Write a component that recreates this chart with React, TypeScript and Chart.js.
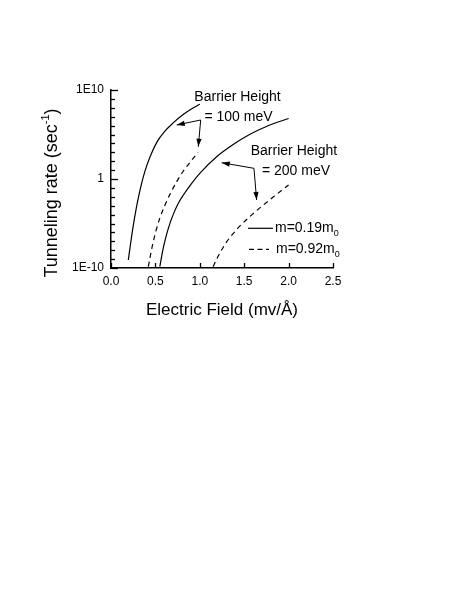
import React, { useEffect, useRef } from 'react';
import { Chart, registerables } from 'chart.js';

Chart.register(...registerables);

const FONT = '"Liberation Sans", Arial, Helvetica, sans-serif';

// Electric field (mV/Å) and log10 of tunneling rate (sec^-1)
const bh100LightField = [0.195, 0.22, 0.25, 0.29, 0.33, 0.38, 0.44, 0.52, 0.6, 0.7, 0.82, 0.91, 1.0];
const bh100LightExp = [-9.1, -7.3, -5.3, -3.0, -1.1, 0.8, 2.5, 4.2, 5.3, 6.3, 7.3, 7.9, 8.4];

const bh100HeavyField = [0.42, 0.44, 0.47, 0.51, 0.55, 0.6, 0.665, 0.74, 0.815, 0.9, 0.98];
const bh100HeavyExp = [-9.85, -8.8, -7.3, -5.7, -4.4, -3.1, -1.7, -0.3, 0.9, 2.0, 3.0];

const bh200LightField = [0.55, 0.58, 0.61, 0.65, 0.7, 0.76, 0.815, 0.9, 1.0, 1.19, 1.38, 1.56, 1.75, 2.0];
const bh200LightExp = [-9.85, -8.2, -6.85, -5.4, -4.0, -2.7, -1.8, -0.6, 0.64, 2.5, 3.9, 5.0, 5.9, 6.8];

const bh200HeavyField = [1.15, 1.2, 1.25, 1.3, 1.37, 1.45, 1.55, 1.64, 1.83, 2.0];
const bh200HeavyExp = [-9.85, -8.8, -7.9, -7.1, -6.2, -5.3, -4.35, -3.55, -2.0, -0.67];

const xTickValues = [0, 0.5, 1.0, 1.5, 2.0, 2.5];
const yLabelExps = [-10, 0, 10];
const yLabelTexts = ['1E-10', '1', '1E10'];

const legendLabels = ['m=0.19m', 'm=0.92m'];
const barrierLabels = ['= 100 meV', '= 200 meV'];

function toPoints(xs: number[], es: number[]) {
  return xs.map((x, i) => ({ x, y: Math.pow(10, es[i]) }));
}

// annotation anchors in data units (x, log10 y)
const ann100 = { title: [1.425, 9.25], sub: [1.436, 7.0], vertex: [1.01, 6.63], left: [0.74, 6.07], down: [0.983, 3.63] };
const ann200 = { title: [2.06, 3.15], sub: [2.083, 0.93], vertex: [1.61, 1.2], left: [1.247, 1.83], down: [1.64, -2.36] };

function arrow(ctx: CanvasRenderingContext2D, x0: number, y0: number, x1: number, y1: number) {
  ctx.beginPath();
  ctx.moveTo(x0, y0);
  ctx.lineTo(x1, y1);
  ctx.stroke();
  const ang = Math.atan2(y1 - y0, x1 - x0);
  const L = 8, W = 2.6;
  ctx.beginPath();
  ctx.moveTo(x1, y1);
  ctx.lineTo(x1 - L * Math.cos(ang) + W * Math.sin(ang), y1 - L * Math.sin(ang) - W * Math.cos(ang));
  ctx.lineTo(x1 - L * Math.cos(ang) - W * Math.sin(ang), y1 - L * Math.sin(ang) + W * Math.cos(ang));
  ctx.closePath();
  ctx.fill();
}

const overlay = {
  id: 'overlay',
  afterDraw(chart: any) {
    const { ctx, chartArea: a } = chart;
    const xs = chart.scales.x;
    const ys = chart.scales.y;
    const P = (p: number[]) => [xs.getPixelForValue(p[0]), ys.getPixelForValue(Math.pow(10, p[1]))];
    ctx.save();
    ctx.strokeStyle = '#000';
    ctx.fillStyle = '#000';
    ctx.lineWidth = 1.3;
    ctx.setLineDash([]);
    // inward ticks
    for (const t of ys.ticks) {
      const py = Math.round(ys.getPixelForValue(t.value)) + 0.5;
      const k = Math.round(Math.log10(t.value));
      const len = yLabelExps.includes(k) ? 7 : 4;
      ctx.beginPath();
      ctx.moveTo(a.left, py);
      ctx.lineTo(a.left + len, py);
      ctx.stroke();
    }
    for (const t of xs.ticks) {
      const px = Math.round(xs.getPixelForValue(t.value)) + 0.5;
      ctx.beginPath();
      ctx.moveTo(px, a.bottom);
      ctx.lineTo(px, a.bottom - 5);
      ctx.stroke();
    }

    // axis titles
    ctx.textBaseline = 'middle';
    ctx.textAlign = 'left';
    ctx.font = `17px ${FONT}`;
    const xt = 'Electric Field (mv/Å)';
    const xw = ctx.measureText(xt).width;
    ctx.fillText(xt, (a.left + a.right) / 2 - xw / 2, a.bottom + 42);

    ctx.save();
    ctx.translate(a.left - 59, (a.top + a.bottom) / 2 + 14);
    ctx.rotate(-Math.PI / 2);
    const t1 = 'Tunneling rate (sec';
    const t2 = '-1';
    const t3 = ')';
    ctx.font = `18px ${FONT}`;
    const w1 = ctx.measureText(t1).width;
    const w3 = ctx.measureText(t3).width;
    ctx.font = `11px ${FONT}`;
    const w2 = ctx.measureText(t2).width;
    let sx = -(w1 + w2 + w3) / 2;
    ctx.font = `18px ${FONT}`;
    ctx.fillText(t1, sx, 0);
    sx += w1;
    ctx.font = `11px ${FONT}`;
    ctx.fillText(t2, sx, -6);
    sx += w2;
    ctx.font = `18px ${FONT}`;
    ctx.fillText(t3, sx, 0);
    ctx.restore();

    // barrier annotations
    ctx.font = `14px ${FONT}`;
    ctx.textAlign = 'center';
    ctx.lineWidth = 1;
    for (const [an, lab] of [[ann100, barrierLabels[0]], [ann200, barrierLabels[1]]] as any) {
      const tp = P(an.title);
      ctx.fillText('Barrier Height', tp[0], tp[1]);
      const sp = P(an.sub);
      ctx.fillText(lab, sp[0], sp[1]);
      const v = P(an.vertex);
      const l = P(an.left);
      const d = P(an.down);
      arrow(ctx, v[0], v[1], l[0], l[1]);
      arrow(ctx, v[0], v[1], d[0], d[1]);
    }

    // legend
    ctx.textAlign = 'left';
    const l1 = P([1.543, -5.54]);
    const l1e = P([1.824, -5.54]);
    ctx.lineWidth = 1.2;
    ctx.beginPath();
    ctx.moveTo(l1[0], l1[1]);
    ctx.lineTo(l1e[0], l1[1]);
    ctx.stroke();
    const l2 = P([1.554, -7.9]);
    const l2e = P([1.779, -7.9]);
    ctx.setLineDash([5, 3.5]);
    ctx.beginPath();
    ctx.moveTo(l2[0], l2[1]);
    ctx.lineTo(l2e[0], l2[1]);
    ctx.stroke();
    ctx.setLineDash([]);
    const texts = [[legendLabels[0], l1e[0] + 2, l1[1]], [legendLabels[1], l2e[0] + 7, l2[1]]] as any;
    for (const [s, tx, ty] of texts) {
      ctx.font = `14px ${FONT}`;
      ctx.fillText(s, tx, ty);
      const w = ctx.measureText(s).width;
      ctx.font = `9px ${FONT}`;
      ctx.fillText('0', tx + w, ty + 5);
    }
    ctx.restore();
  },
};

export default function App() {
  const ref = useRef<HTMLCanvasElement | null>(null);
  useEffect(() => {
    if (!ref.current) return;
    const mk = (label: string, xs: number[], es: number[], dashed: boolean) => ({
      label,
      data: toPoints(xs, es),
      borderColor: '#000',
      borderWidth: 1.2,
      borderDash: dashed ? [5, 4] : [],
      pointRadius: 0,
      fill: false,
      cubicInterpolationMode: 'monotone' as const,
    });
    const chart = new Chart(ref.current, {
      type: 'line',
      data: {
        datasets: [
          mk('100 meV, m=0.19m0', bh100LightField, bh100LightExp, false),
          mk('100 meV, m=0.92m0', bh100HeavyField, bh100HeavyExp, true),
          mk('200 meV, m=0.19m0', bh200LightField, bh200LightExp, false),
          mk('200 meV, m=0.92m0', bh200HeavyField, bh200HeavyExp, true),
        ],
      },
      options: {
        responsive: false,
        animation: false,
        devicePixelRatio: 1,
        layout: { padding: { left: 0, right: 122, top: 82, bottom: 0 } },
        plugins: { legend: { display: false }, tooltip: { enabled: false } },
        scales: {
          x: {
            type: 'linear',
            min: 0,
            max: 2.5,
            afterBuildTicks: (s: any) => {
              s.ticks = xTickValues.map((v) => ({ value: v }));
            },
            afterFit: (s: any) => {
              s.height = 70;
            },
            ticks: {
              autoSkip: false,
              maxRotation: 0,
              padding: 6,
              color: '#000',
              font: { family: FONT, size: 12 },
              callback: (v: any) => Number(v).toFixed(1),
            },
            grid: { display: false, drawTicks: false },
            border: { display: true, color: '#000', width: 1.5 },
          },
          y: {
            type: 'logarithmic',
            min: 1e-10,
            max: 1e10,
            afterBuildTicks: (s: any) => {
              const t = [];
              for (let k = -10; k <= 10; k++) t.push({ value: Math.pow(10, k) });
              s.ticks = t;
            },
            afterFit: (s: any) => {
              s.width = 103;
            },
            ticks: {
              autoSkip: false,
              padding: 7,
              color: '#000',
              font: { family: FONT, size: 12 },
              callback: (v: any) => {
                const k = Math.round(Math.log10(Number(v)));
                const i = yLabelExps.indexOf(k);
                return i >= 0 ? yLabelTexts[i] : '';
              },
            },
            grid: { display: false, drawTicks: false },
            border: { display: true, color: '#000', width: 1.5 },
          },
        },
      },
      plugins: [overlay],
    });
    return () => chart.destroy();
  }, []);
  return (
    <div style={{ width: 447, height: 330 }}>
      <canvas ref={ref} width={447} height={330} style={{ width: 447, height: 330, display: 'block' }} />
    </div>
  );
}
